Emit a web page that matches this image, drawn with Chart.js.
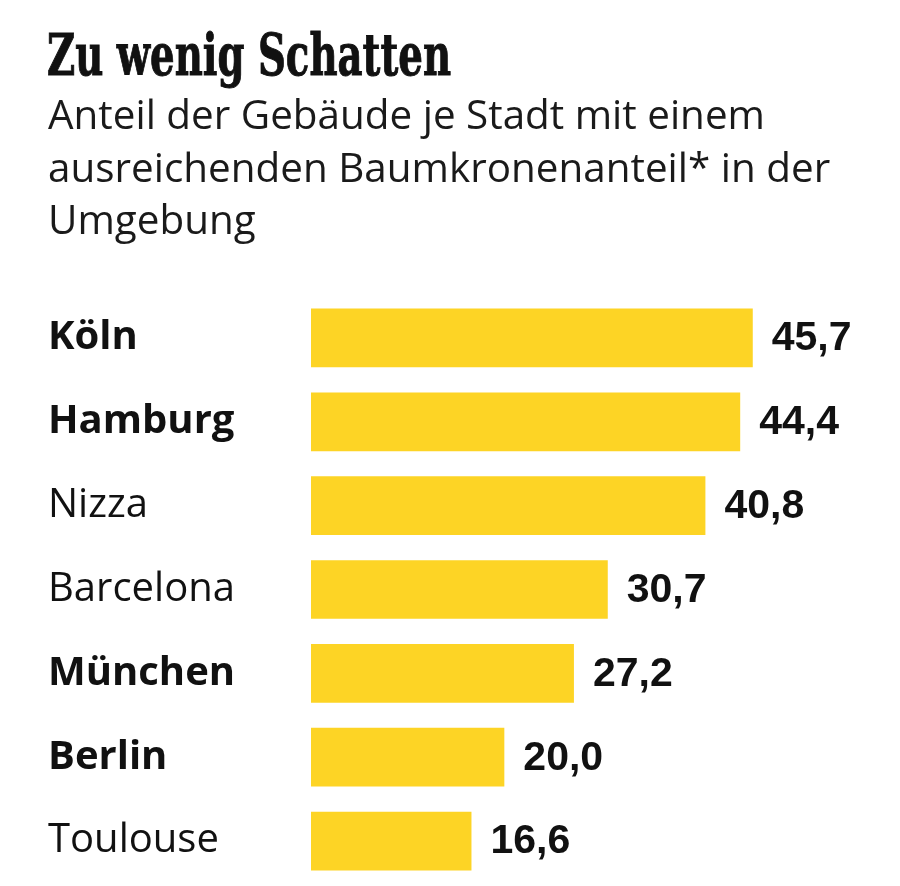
<!DOCTYPE html>
<html lang="de">
<head>
<meta charset="utf-8">
<title>Zu wenig Schatten</title>
<script src="https://cdn.jsdelivr.net/npm/chart.js@4/dist/chart.umd.min.js"></script>
<style>
    html, body { margin: 0; padding: 0; background: #fff; }
    #wrap { position: relative; width: 900px; height: 886px; overflow: hidden; }
    #chart { position: absolute; left: 0; top: 0; }
    .title {
        position: absolute; left: 47px; top: 26px;
        font-family: "DejaVu Serif", serif; font-weight: bold;
        font-size: 57px; line-height: 58px; color: #111;
        -webkit-text-stroke: 1px #111;
        white-space: nowrap; transform-origin: 0 0;
    }
    .sub {
        position: absolute; left: 48px; top: 87px;
        font-family: "Open Sans", sans-serif; font-size: 41px;
        line-height: 52.5px; color: #1a1a1a;
        white-space: nowrap; transform-origin: 0 0;
    }
</style>
</head>
<body>
<div id="wrap">
    <canvas id="chart" width="900" height="907"></canvas>
    <div class="title" id="title">Zu wenig Schatten</div>
    <div class="sub" id="sub"><span id="sub1">Anteil der Gebäude je Stadt mit einem</span><br>ausreichenden Baumkronenanteil* in der<br>Umgebung</div>
</div>
<script>
// Anteil der Gebäude mit ausreichendem Baumkronenanteil (%)
const cities = ['Köln', 'Hamburg', 'Nizza', 'Barcelona', 'München', 'Berlin', 'Toulouse'];
const shares = [45.7, 44.4, 40.8, 30.7, 27.2, 20.0, 16.6];
// deutsche Städte fett
const isGerman = [true, true, false, false, true, true, false];

const BAR_COLOR = '#fdd425';
const LABEL_FONT = '"Open Sans"';

// fit header text widths to the original layout
function fitWidth(el, measureEl, target) {
    const w = measureEl.getBoundingClientRect().width;
    if (w > 0) el.style.transform = `scaleX(${target / w})`;
}

const fmt = v => v.toLocaleString('de-DE', { minimumFractionDigits: 1, maximumFractionDigits: 1 });

// value labels at the bar ends
const valueLabels = {
    id: 'valueLabels',
    afterDatasetsDraw(chart) {
        const { ctx } = chart;
        const meta = chart.getDatasetMeta(0);
        ctx.save();
        ctx.font = 'bold 41px "Liberation Sans", Arial, sans-serif';
        ctx.fillStyle = '#111';
        ctx.textAlign = 'left';
        ctx.textBaseline = 'middle';
        meta.data.forEach((bar, i) => {
            ctx.fillText(fmt(shares[i]), bar.x + 19, bar.y + 1);
        });
        ctx.restore();
    }
};

function drawChart() {
    fitWidth(document.getElementById('title'), document.getElementById('title'), 404);
    fitWidth(document.getElementById('sub'), document.getElementById('sub1'), 717);

    new Chart(document.getElementById('chart'), {
        type: 'bar',
        data: {
            labels: cities,
            datasets: [{
                data: shares,
                backgroundColor: BAR_COLOR,
                borderWidth: 0,
                barPercentage: 0.70,
                categoryPercentage: 1.0
            }]
        },
        options: {
            indexAxis: 'y',
            responsive: false,
            animation: false,
            layout: { padding: { left: 48, right: 9, top: 296, bottom: 2 } },
            plugins: {
                legend: { display: false },
                tooltip: { enabled: false }
            },
            scales: {
                x: {
                    display: false,
                    min: 0,
                    max: 60
                },
                y: {
                    grid: { display: false },
                    border: { display: false },
                    afterFit: scale => { scale.width = 263; },
                    ticks: {
                        crossAlign: 'far',
                        color: '#111',
                        padding: 0,
                        font: ctx => ({
                            family: LABEL_FONT,
                            size: 40,
                            lineHeight: 1.2,
                            weight: isGerman[ctx.index] ? 'bold' : 'normal'
                        })
                    }
                }
            }
        },
        plugins: [valueLabels]
    });
}

Promise.all([
    document.fonts.load('40px "Open Sans"'),
    document.fonts.load('bold 40px "Open Sans"'),
    document.fonts.load('bold 41px "Liberation Sans"'),
    document.fonts.load('bold 57px "DejaVu Serif"')
]).then(drawChart, drawChart);
</script>
</body>
</html>
